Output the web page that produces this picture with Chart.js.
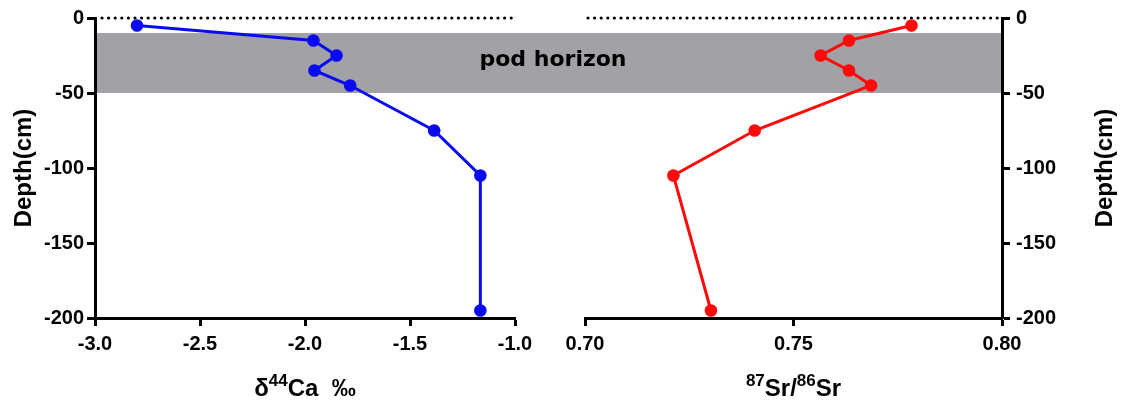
<!DOCTYPE html>
<html><head><meta charset="utf-8">
<script src="https://cdn.jsdelivr.net/npm/chart.js@4"></script>
<style>
html,body{margin:0;padding:0;background:#fff;width:1124px;height:403px;overflow:hidden}
#wl{position:absolute;left:0;top:0;width:550px;height:403px}
#wr{position:absolute;left:550px;top:0;width:574px;height:403px}
canvas{display:block}
</style></head><body>
<div id="wl"><canvas id="cl" width="550" height="403" style="width:550px;height:403px"></canvas></div>
<div id="wr"><canvas id="cr" width="574" height="403" style="width:574px;height:403px"></canvas></div>
<script>
// ---- data ----
const depth = [-5, -15, -25, -35, -45, -75, -105, -195];
const caValues = [-2.80, -1.96, -1.85, -1.955, -1.785, -1.385, -1.165, -1.165];
const srValues = [0.7783, 0.7633, 0.7565, 0.7633, 0.7686, 0.7407, 0.7212, 0.7302];
const caTicks = [-3.0, -2.5, -2.0, -1.5, -1.0];
const caTickLabels = ['-3.0', '-2.5', '-2.0', '-1.5', '-1.0'];
const srTicks = [0.70, 0.75, 0.80];
const srTickLabels = ['0.70', '0.75', '0.80'];
const depthTicks = [0, -50, -100, -150, -200];
const depthTickLabels = ['0', '-50', '-100', '-150', '-200'];
const podRange = [-10, -50];
const podLabel = 'pod horizon';
const yTitle = 'Depth(cm)';

// ---- style ----
const FONT = '"Liberation Sans", Arial, sans-serif';
const BAND = '#a2a1a6';
const SPLIT = 550;          // page x where the right canvas starts
const LABEL_CX = 553;       // page x centre of the band label

Chart.defaults.font.family = FONT;
Chart.defaults.font.weight = 'bold';
Chart.defaults.color = '#000';

function pts(xs) { return xs.map((v, i) => ({x: v, y: depth[i]})); }

function richText(ctx, segs, cx, base) {
  let w = 0;
  segs.forEach(s => { ctx.font = 'bold ' + s.s + 'px ' + FONT; s.w = ctx.measureText(s.t).width; w += s.w; });
  let x = cx - w / 2;
  ctx.textAlign = 'left'; ctx.textBaseline = 'alphabetic'; ctx.fillStyle = '#000';
  segs.forEach(s => { ctx.font = 'bold ' + s.s + 'px ' + FONT; ctx.fillText(s.t, x, base - (s.r || 0)); x += s.w; });
}

function decoPlugin(side, xTitleSegs, yTitleX) {
  return {
    id: 'deco' + side,
    beforeDraw(chart) {
      const {ctx, chartArea: a, scales: {y}} = chart;
      const y1 = Math.round(y.getPixelForValue(podRange[0])), y2 = Math.round(y.getPixelForValue(podRange[1]));
      const x0 = side === 'L' ? a.left : 0;
      const x1 = side === 'L' ? chart.width : a.right;
      ctx.save();
      ctx.fillStyle = BAND;
      ctx.fillRect(x0, y1, x1 - x0, y2 - y1);
      ctx.font = 'bold 22px "DejaVu Sans", sans-serif';
      ctx.fillStyle = '#000';
      ctx.textAlign = 'center';
      ctx.textBaseline = 'alphabetic';
      const cx = side === 'L' ? LABEL_CX : LABEL_CX - SPLIT;
      ctx.fillText(podLabel, cx, (y1 + y2) / 2 + 3);
      // dotted zero line
      const y0 = y.getPixelForValue(0);
      ctx.strokeStyle = '#000';
      ctx.lineWidth = 3.2;
      ctx.lineCap = 'round';
      ctx.setLineDash([0, 6.6]);
      ctx.beginPath();
      if (side === 'L') { ctx.moveTo(a.left + 7, y0); ctx.lineTo(a.right, y0); }
      else { ctx.moveTo(a.left + 3, y0); ctx.lineTo(a.right - 4, y0); }
      ctx.stroke();
      ctx.restore();
    },
    afterDraw(chart) {
      const {ctx, chartArea: a} = chart;
      ctx.save();
      richText(ctx, xTitleSegs, (a.left + a.right) / 2, 396);
      ctx.translate(yTitleX, (a.top + a.bottom) / 2);
      ctx.rotate(-Math.PI / 2);
      ctx.font = 'bold 24px ' + FONT;
      ctx.fillStyle = '#000';
      ctx.textAlign = 'center';
      ctx.textBaseline = 'middle';
      ctx.fillText(yTitle, 0, 0);
      ctx.restore();
    }
  };
}

function axisCommon() {
  return {
    grid: {display: true, drawOnChartArea: false, drawTicks: true, tickLength: 8, tickWidth: 3, color: '#000'},
    border: {display: true, width: 3, color: '#000'}
  };
}

function makeChart(id, side, values, color, xMin, xMax, xTicks, xLabels, xTitleSegs, yTitleX) {
  const xAxis = Object.assign(axisCommon(), {
    type: 'linear', position: 'bottom', min: xMin, max: xMax,
    afterBuildTicks: s => { s.ticks = xTicks.map(v => ({value: v})); },
    afterFit: s => { s.height = 85; },
    ticks: {font: {size: 20, weight: 'bold'}, padding: 6, maxRotation: 0, autoSkip: false,
            callback: (v, i) => xLabels[i]}
  });
  const yAxis = Object.assign(axisCommon(), {
    type: 'linear', position: side === 'L' ? 'left' : 'right', min: -200, max: 0,
    afterBuildTicks: s => { s.ticks = depthTicks.map(v => ({value: v})); },
    afterFit: s => { s.width = side === 'L' ? 95 : 122; },
    ticks: {font: {size: 20, weight: 'bold'}, padding: side === 'L' ? 3 : 6, autoSkip: false,
            callback: (v, i) => depthTickLabels[i]}
  });
  return new Chart(document.getElementById(id), {
    type: 'scatter',
    data: {datasets: [{
      data: pts(values), showLine: true, borderColor: color, borderWidth: 3,
      pointRadius: 6.3, pointBackgroundColor: color, pointBorderWidth: 0, pointHoverRadius: 6.3
    }]},
    options: {
      responsive: false, animation: false, events: [],
      layout: {padding: side === 'L' ? {left: 0, right: 35, top: 18, bottom: 0} : {left: 35, right: 0, top: 18, bottom: 0}},
      plugins: {legend: {display: false}, tooltip: {enabled: false}},
      scales: {x: xAxis, y: yAxis}
    },
    plugins: [decoPlugin(side, xTitleSegs, yTitleX)]
  });
}

makeChart('cl', 'L', caValues, '#0a0af0', -3.0, -1.0, caTicks, caTickLabels,
  [{t: 'δ', s: 24}, {t: '44', s: 17, r: 10}, {t: 'Ca  ‰', s: 24}], 24);
makeChart('cr', 'R', srValues, '#ff0a0a', 0.70, 0.80, srTicks, srTickLabels,
  [{t: '87', s: 17, r: 10}, {t: 'Sr/', s: 24}, {t: '86', s: 17, r: 10}, {t: 'Sr', s: 24}], 1105 - SPLIT);
</script>
</body></html>
